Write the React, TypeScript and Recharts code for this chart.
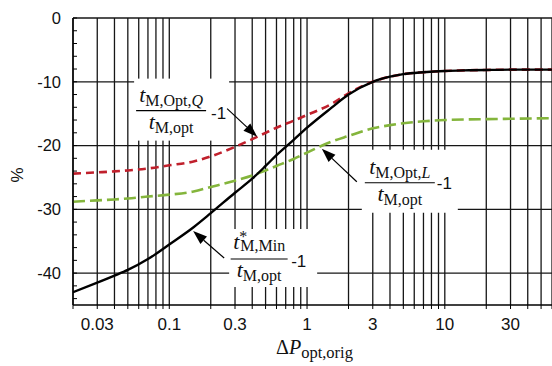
import React from "react";
import {
  ComposedChart, Line, XAxis, YAxis, CartesianGrid, ReferenceLine, ReferenceDot,
} from "recharts";

// ΔP values (log axis) and the three ratio curves, in %
const xValues = [0.02, 0.03, 0.04, 0.05, 0.07, 0.1, 0.15, 0.2, 0.3, 0.4, 0.5, 0.6, 0.8, 1, 1.5, 2, 3, 4, 5, 7, 10, 15, 20, 30, 60];
const minSeries = [-43.0, -41.5, -40.4, -39.5, -37.8, -35.5, -32.8, -30.6, -27.4, -25.2, -23.2, -21.5, -19.1, -17.2, -14.1, -12.0, -10.0, -9.2, -8.8, -8.5, -8.3, -8.2, -8.15, -8.1, -8.1];
const optQSeries = [-24.4, -24.2, -24.05, -23.9, -23.6, -23.1, -22.5, -21.7, -20.2, -19.0, -18.0, -17.2, -16.1, -15.2, -13.5, -11.8, -10.0, -9.2, -8.8, -8.5, -8.3, -8.2, -8.15, -8.1, -8.1];
const optLSeries = [-28.8, -28.6, -28.45, -28.3, -28.0, -27.7, -27.2, -26.5, -25.5, -24.7, -23.9, -23.2, -22.1, -21.1, -19.4, -18.5, -17.3, -16.8, -16.5, -16.2, -16.0, -15.9, -15.85, -15.8, -15.7];

const xLabelTicks = [0.03, 0.1, 0.3, 1, 3, 10, 30];
const xGridTicks = [
  0.02, 0.03, 0.04, 0.05, 0.06, 0.07, 0.08, 0.09,
  0.1, 0.2, 0.3, 0.4, 0.5, 0.6, 0.7, 0.8, 0.9,
  1, 2, 3, 4, 5, 6, 7, 8, 9,
  10, 20, 30, 40, 50, 60,
];
const yLabelTicks = [0, -10, -20, -30, -40];
const yMinorTicks = [0, -2, -4, -6, -8, -10, -12, -14, -16, -18, -20, -22, -24, -26, -28, -30, -32, -34, -36, -38, -40, -42, -44];
const hGrid = [0, -10, -20, -30, -40];

const data = xValues.map((x, i) => ({
  x,
  min: minSeries[i],
  optQ: optQSeries[i],
  optL: optLSeries[i],
}));

const SANS = "'Liberation Sans', Arial, sans-serif";
const SERIF = "'Liberation Serif', 'Times New Roman', serif";
const GRID = "#161616";

type Ann = {
  key: string;
  x: number; y: number;            // arrow tip, data coords
  box: [number, number, number, number]; // dx, dy, w, h from tip
  bar: [number, number, number];   // bar centre dx, dy, width
  minus: [number, number];
  tail: [number, number];
  sub: string;
  subItalic?: string;
  star?: boolean;
};

const annotations: Ann[] = [
  { key: "q", x: 0.434, y: -18.6, box: [-123, -58, 95, 62], bar: [-86, -26, 70], minus: [-46, -18], tail: [-30, -28], sub: "M,Opt,", subItalic: "Q" },
  { key: "l", x: 1.28, y: -20.5, box: [40, 1, 96, 63], bar: [78, 34, 70], minus: [115, 40], tail: [35, 33], sub: "M,Opt,", subItalic: "L" },
  { key: "m", x: 0.149, y: -33.4, box: [36, -2, 88, 58], bar: [66, 28, 57], minus: [98, 36], tail: [31, 27], sub: "M,Min", star: true },
];

function XTick(props: any) {
  const { x, y, payload } = props;
  const v = payload.value;
  if (!xLabelTicks.some(t => Math.abs(t - v) < 1e-9)) return <g />;
  return (
    <text x={x} y={y} dy="0.71em" textAnchor="middle" fontFamily={SANS} fontSize={17} fill="#111">
      {String(v)}
    </text>
  );
}

function YTick(props: any) {
  const { x, y, payload } = props;
  const v = payload.value;
  if (!yLabelTicks.includes(v)) return <g />;
  return (
    <text x={x} y={y} dy="0.36em" textAnchor="end" fontFamily={SANS} fontSize={16.5} fill="#111">
      {String(v)}
    </text>
  );
}

function XLabel(props: any) {
  const vb = props.viewBox;
  const cx = vb.x + vb.width / 2;
  return (
    <text x={cx + 2} y={354} textAnchor="middle" fontFamily={SERIF} fill="#111">
      <tspan fontSize={20}>Δ</tspan>
      <tspan fontSize={20} fontStyle="italic">P</tspan>
      <tspan fontSize={16.5} dy={4}>opt,orig</tspan>
    </text>
  );
}

function YLabel() {
  return (
    <text x={0} y={0} transform="translate(23,175) rotate(-90)" textAnchor="middle" fontFamily={SANS} fontSize={17} fill="#111">
      %
    </text>
  );
}

function Annotation({ cx, cy, a }: { cx: number; cy: number; a: Ann }) {
  const [bx, by, bw, bh] = a.box;
  const barX = cx + a.bar[0];
  const barY = cy + a.bar[1];
  const half = a.bar[2] / 2;
  const tx = cx + a.tail[0];
  const ty = cy + a.tail[1];
  const dx = cx - tx;
  const dy = cy - ty;
  const len = Math.sqrt(dx * dx + dy * dy);
  const ux = dx / len, uy = dy / len;
  const hl = 14, hw = 5;
  const baseX = cx - ux * hl, baseY = cy - uy * hl;
  const head = `${cx},${cy} ${baseX - uy * hw},${baseY + ux * hw} ${baseX + uy * hw},${baseY - ux * hw}`;
  return (
    <g>
      <rect x={cx + bx} y={cy + by} width={bw} height={bh} fill="#fff" />
      <line x1={tx} y1={ty} x2={baseX} y2={baseY} stroke="#000" strokeWidth={1.2} />
      <polygon points={head} fill="#000" />
      {a.star ? (
        <text x={barX} y={barY - 10} textAnchor="middle" fontFamily={SERIF} fill="#111">
          <tspan fontSize={22} fontStyle="italic">t</tspan>
          <tspan fontSize={16} dy={-7}>*</tspan>
          <tspan fontSize={16} dx={-7} dy={9}>{a.sub}</tspan>
        </text>
      ) : (
        <text x={barX} y={barY - 9} textAnchor="middle" fontFamily={SERIF} fill="#111">
          <tspan fontSize={22} fontStyle="italic">t</tspan>
          <tspan fontSize={16} dy={4}>{a.sub}</tspan>
          {a.subItalic ? <tspan fontSize={16} fontStyle="italic">{a.subItalic}</tspan> : null}
        </text>
      )}
      <line x1={barX - half} y1={barY} x2={barX + half} y2={barY} stroke="#000" strokeWidth={1.2} />
      <text x={barX} y={barY + 18} textAnchor="middle" fontFamily={SERIF} fill="#111">
        <tspan fontSize={22} fontStyle="italic">t</tspan>
        <tspan fontSize={16} dy={4}>M,opt</tspan>
      </text>
      <text x={cx + a.minus[0]} y={cy + a.minus[1]} fontFamily={SANS} fontSize={17} fill="#111">-1</text>
    </g>
  );
}

export default function App() {
  return (
    <div style={{ position: "absolute", left: 0, top: 0, width: 552, height: 366, background: "#fff" }}>
      <ComposedChart width={552} height={366} data={data} margin={{ top: 18, right: 0, bottom: 0, left: 0 }}>
        <CartesianGrid horizontal={false} stroke={GRID} strokeWidth={1.3} />
        <XAxis
          dataKey="x"
          type="number"
          scale="log"
          domain={[0.02, 60]}
          allowDataOverflow
          ticks={xGridTicks}
          interval={0}
          height={61}
          tickSize={4}
          tickMargin={9}
          tick={<XTick />}
          tickLine={{ stroke: "#000" }}
          axisLine={{ stroke: "#000", strokeWidth: 1.4 }}
          label={<XLabel />}
        />
        <YAxis
          type="number"
          domain={[-45, 0]}
          allowDataOverflow
          ticks={yMinorTicks}
          interval={0}
          width={73}
          tickSize={-4}
          tickMargin={16}
          tick={<YTick />}
          tickLine={{ stroke: "#000" }}
          axisLine={{ stroke: "#000", strokeWidth: 1.4 }}
          label={<YLabel />}
        />
        {hGrid.map(v => (
          <ReferenceLine key={v} y={v} stroke={GRID} strokeWidth={1.3} />
        ))}
        <Line type="monotone" dataKey="optL" stroke="#84b53c" strokeWidth={2.6} strokeDasharray="12 5" dot={false} isAnimationActive={false} />
        <Line type="monotone" dataKey="optQ" stroke="#c0202c" strokeWidth={2.6} strokeDasharray="8 5" dot={false} isAnimationActive={false} />
        <Line type="monotone" dataKey="min" stroke="#000" strokeWidth={2.4} dot={false} isAnimationActive={false} />
        {annotations.map(a => (
          <ReferenceDot
            key={a.key}
            x={a.x}
            y={a.y}
            r={0}
            shape={(p: any) => <Annotation cx={p.cx} cy={p.cy} a={a} />}
          />
        ))}
      </ComposedChart>
    </div>
  );
}
